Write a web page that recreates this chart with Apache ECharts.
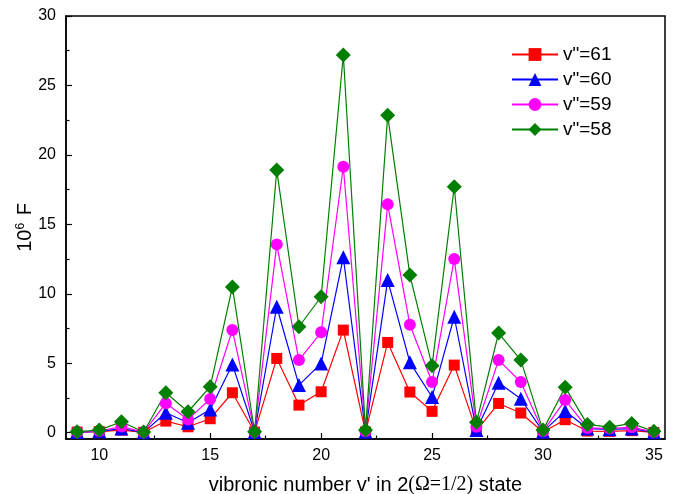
<!DOCTYPE html>
<html>
<head>
<meta charset="utf-8">
<script src="https://cdn.jsdelivr.net/npm/echarts@6/dist/echarts.min.js"></script>
<style>
html, body { margin: 0; padding: 0; background: #fff; }
#main { width: 679px; height: 494px; }
</style>
</head>
<body>
<div id="main"></div>
<script>
// vibronic number v'
var vNum = [9, 10, 11, 12, 13, 14, 15, 16, 17, 18, 19, 20, 21, 22, 23, 24, 25, 26, 27, 28, 29, 30, 31, 32, 33, 34, 35]
var v61 = [0.05, 0.08, 0.19, 0.03, 0.84, 0.43, 1.01, 2.88, 0.05, 5.35, 1.99, 2.95, 7.39, 0.05, 6.5, 2.93, 1.54, 4.87, 0.15, 2.11, 1.42, 0.05, 0.94, 0.12, 0.1, 0.15, 0.02]
var v60 = [0.05, 0.1, 0.3, 0.03, 1.44, 0.72, 1.68, 4.92, 0.05, 9.07, 3.43, 4.99, 12.63, 0.08, 10.99, 5.07, 2.57, 8.35, 0.19, 3.6, 2.45, 0.08, 1.56, 0.3, 0.25, 0.3, 0.03]
var v59 = [0.05, 0.12, 0.45, 0.04, 2.12, 0.96, 2.43, 7.39, 0.06, 13.56, 5.23, 7.23, 19.15, 0.1, 16.44, 7.78, 3.65, 12.5, 0.43, 5.23, 3.65, 0.1, 2.35, 0.35, 0.3, 0.4, 0.05]
var v58 = [0.08, 0.19, 0.79, 0.05, 2.88, 1.51, 3.31, 10.5, 0.07, 18.91, 7.63, 9.79, 27.19, 0.19, 22.85, 11.35, 4.83, 17.71, 0.75, 7.18, 5.23, 0.19, 3.27, 0.6, 0.4, 0.67, 0.1]

var xTicks = [10, 15, 20, 25, 30, 35]
var xMinor = [12.5, 17.5, 22.5, 27.5, 32.5]
var yTicks = [0, 5, 10, 15, 20, 25, 30]
var yMinor = [2.5, 7.5, 12.5, 17.5, 22.5, 27.5]

var font = 'Liberation Sans, Arial, sans-serif'
var diamond = 'path://M0,-1L1,0L0,1L-1,0Z'

function pairs(ys) {
  return vNum.map(function (x, i) { return [x, ys[i]] })
}

function mkSeries(name, ys, color, symbol, size) {
  return {
    name: name,
    type: 'line',
    data: pairs(ys),
    symbol: symbol,
    symbolSize: size,
    showSymbol: true,
    lineStyle: { color: color, width: 1.2 },
    itemStyle: { color: color },
    emphasis: { disabled: true },
    z: 3
  }
}

var chart = echarts.init(document.getElementById('main'))
chart.setOption({
  animation: false,
  backgroundColor: '#fff',
  grid: {
    left: 66, right: 14, top: 16, bottom: 55,
    outerBoundsMode: 'none',
    show: true, borderColor: '#000', borderWidth: 1.5, backgroundColor: 'transparent'
  },
  legend: {
    orient: 'vertical',
    left: 511,
    top: 45,
    padding: 0,
    itemWidth: 46,
    itemHeight: 16,
    itemGap: 6,
    textStyle: { fontFamily: font, fontSize: 19, color: '#000' },
    data: ['v"=61', 'v"=60', 'v"=59', 'v"=58']
  },
  xAxis: [
    {
      type: 'value', min: 8.5, max: 35.5,
      name: "vibronic number v' in 2{s|(Ω=1/2)} state",
      nameLocation: 'middle', nameGap: 36,
      nameTextStyle: {
        fontFamily: font, fontSize: 20, color: '#000',
        rich: { s: { fontFamily: 'Liberation Serif, serif', fontSize: 20, color: '#000' } }
      },
      axisLine: { show: true, onZero: false, lineStyle: { color: '#000', width: 1.5 } },
      axisTick: { show: true, inside: true, length: 6, lineStyle: { color: '#000', width: 1.2 }, customValues: xTicks },
      axisLabel: { fontFamily: font, fontSize: 16, color: '#000', margin: 9, customValues: xTicks },
      splitLine: { show: false }
    },
    {
      type: 'value', min: 8.5, max: 35.5, position: 'bottom',
      axisLine: { show: false, onZero: false },
      axisTick: { show: true, inside: true, length: 3.5, lineStyle: { color: '#000', width: 1.2 }, customValues: xMinor },
      axisLabel: { show: false },
      splitLine: { show: false }
    }
  ],
  yAxis: [
    {
      type: 'value', min: -0.45, max: 30,
      name: '10{sup|6} F',
      nameLocation: 'middle', nameGap: 30,
      nameMoveOverlap: false,
      nameTextStyle: {
        fontFamily: font, fontSize: 20, color: '#000',
        rich: { sup: { fontFamily: font, fontSize: 12, color: '#000', verticalAlign: 'bottom', padding: [0, 2, 9, 0] } }
      },
      axisLine: { show: true, onZero: false, lineStyle: { color: '#000', width: 1.5 } },
      axisTick: { show: true, inside: true, length: 6, lineStyle: { color: '#000', width: 1.2 }, customValues: yTicks },
      axisLabel: { fontFamily: font, fontSize: 16, color: '#000', margin: 10, customValues: yTicks },
      splitLine: { show: false }
    },
    {
      type: 'value', min: -0.45, max: 30, position: 'left',
      axisLine: { show: false, onZero: false },
      axisTick: { show: true, inside: true, length: 3.5, lineStyle: { color: '#000', width: 1.2 }, customValues: yMinor },
      axisLabel: { show: false },
      splitLine: { show: false }
    }
  ],
  series: [
    mkSeries('v"=61', v61, '#ff0000', 'rect', 11),
    mkSeries('v"=60', v60, '#0000ff', 'triangle', 14),
    mkSeries('v"=59', v59, '#ff00ff', 'circle', 12),
    mkSeries('v"=58', v58, '#007f00', diamond, 15)
  ]
})
</script>
</body>
</html>
